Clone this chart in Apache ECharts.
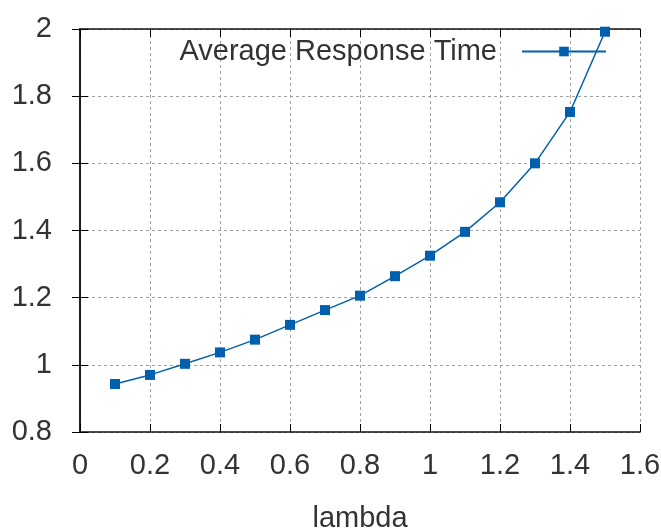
<!DOCTYPE html>
<html>
<head>
<meta charset="utf-8">
<script src="https://cdn.jsdelivr.net/npm/echarts@6/dist/echarts.min.js"></script>
<style>
    html, body { margin: 0; padding: 0; background: #fff; }
    #chart { width: 661px; height: 528px; }
</style>
</head>
<body>
<div id="chart"></div>
<script>
// lambda values and the measured response times
const lambdas = [0.1, 0.2, 0.3, 0.4, 0.5, 0.6, 0.7, 0.8, 0.9, 1.0, 1.1, 1.2, 1.3, 1.4, 1.5];
const responseTimes = [0.943, 0.970, 1.003, 1.037, 1.075, 1.119, 1.163, 1.206, 1.264, 1.325, 1.396, 1.484, 1.600, 1.753, 1.992];
const seriesName = 'Average Response Time';

const chart = echarts.init(document.getElementById('chart'));
const fontFamily = '"Liberation Sans", Arial, sans-serif';
const fontSize = 29;
const textColor = '#333';
const lineColor = '#0060ad';

const gridLine = {
    show: true,
    lineStyle: { color: '#a0a0a0', type: [3, 3], width: 1 }
};
const tickIn = { show: true, inside: true, length: 8, lineStyle: { color: '#000', width: 1 } };
const border = { show: true, lineStyle: { color: '#111', width: 1.5 } };

const option = {
    backgroundColor: '#fff',
    animation: false,
    grid: { left: 80, right: 21, top: 29, bottom: 96, outerBoundsMode: 'none' },
    legend: {
        data: [seriesName],
        right: 49,
        top: 32,
        align: 'right',
        itemWidth: 84,
        itemHeight: 12,
        textStyle: { fontSize: fontSize, color: textColor, fontFamily: fontFamily, padding: [0, 20, 0, 0] }
    },
    xAxis: [
        {
            type: 'value',
            min: 0,
            max: 1.6,
            interval: 0.2,
            name: 'lambda',
            nameLocation: 'middle',
            nameGap: 72,
            nameTextStyle: { fontSize: fontSize, color: textColor, fontFamily: fontFamily },
            axisLine: border,
            axisTick: tickIn,
            axisLabel: { fontSize: fontSize, color: textColor, fontFamily: fontFamily, margin: 19 },
            splitLine: gridLine
        },
        {
            type: 'value',
            position: 'top',
            min: 0,
            max: 1.6,
            interval: 0.2,
            axisLine: border,
            axisTick: tickIn,
            axisLabel: { show: false },
            splitLine: { show: false }
        }
    ],
    yAxis: [
        {
            type: 'value',
            min: 0.8,
            max: 2,
            interval: 0.2,
            axisLine: border,
            axisTick: tickIn,
            axisLabel: { fontSize: fontSize, color: textColor, fontFamily: fontFamily, margin: 28 },
            splitLine: gridLine
        },
        {
            type: 'value',
            position: 'right',
            min: 0.8,
            max: 2,
            interval: 0.2,
            axisLine: border,
            axisTick: tickIn,
            axisLabel: { show: false },
            splitLine: { show: false }
        }
    ],
    series: [
        {
            name: seriesName,
            type: 'line',
            data: lambdas.map((x, i) => [x, responseTimes[i]]),
            symbol: 'rect',
            symbolSize: 10,
            showAllSymbol: true,
            itemStyle: { color: lineColor },
            lineStyle: { color: lineColor, width: 1.5 }
        }
    ]
};
chart.setOption(option);
</script>
</body>
</html>
